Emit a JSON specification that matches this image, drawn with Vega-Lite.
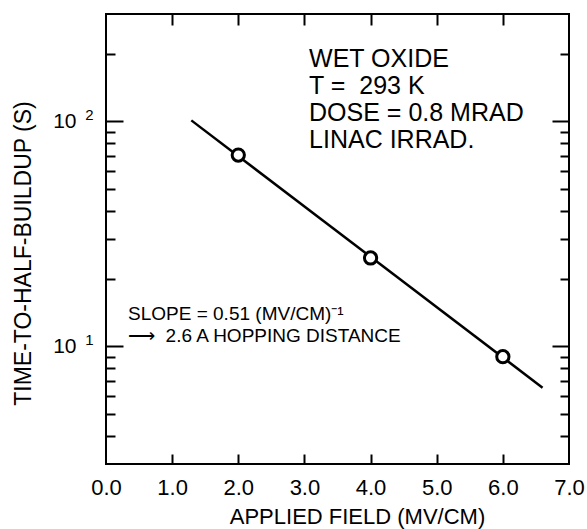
{
  "$schema": "https://vega.github.io/schema/vega-lite/v6.json",
  "width": 463,
  "height": 450,
  "autosize": {"type": "none"},
  "padding": {"left": 106, "top": 14, "right": 18, "bottom": 65},
  "background": "white",
  "config": {
    "view": {"stroke": "black", "strokeWidth": 2},
    "axis": {
      "domain": false,
      "grid": false,
      "tickColor": "black",
      "tickWidth": 2,
      "labelColor": "black",
      "labelFont": "Liberation Sans",
      "titleFont": "Liberation Sans",
      "titleColor": "black",
      "titleFontWeight": "normal",
      "labelFlush": false,
      "labelOverlap": false
    },
    "text": {"font": "Liberation Sans", "color": "black"}
  },
  "datasets": {
    "fit": [
      {"field": 1.29, "time": 101},
      {"field": 6.6, "time": 6.55}
    ],
    "measured": [
      {"field": 2, "time": 70.8},
      {"field": 4, "time": 24.7},
      {"field": 6, "time": 9.0}
    ],
    "conditions": [
      {"field": 3.07, "time": 174, "note": ["WET OXIDE", "T =\u00a0 293 K", "DOSE = 0.8 MRAD", "LINAC IRRAD."]}
    ],
    "slope": [
      {"field": 0.333, "time": 13.1, "note": ["SLOPE = 0.51 (MV/CM)\u207b\u00b9", "\u27f6\u00a0\u00a02.6 A HOPPING DISTANCE"]}
    ]
  },
  "resolve": {"axis": {"x": "independent", "y": "independent"}},
  "layer": [
    {
      "data": {"name": "fit"},
      "mark": {"type": "line", "color": "black", "strokeWidth": 2.5},
      "encoding": {
        "x": {
          "field": "field",
          "type": "quantitative",
          "scale": {"domain": [0, 7], "nice": false, "zero": false},
          "axis": {
            "orient": "bottom",
            "values": [0, 1, 2, 3, 4, 5, 6, 7],
            "ticks": false,
            "format": ".1f",
            "labelFontSize": 22,
            "labelPadding": 13,
            "title": "APPLIED FIELD (MV/CM)",
            "titleFontSize": 22,
            "titleX": 251,
            "titleY": 59,
            "titleBaseline": "alphabetic"
          }
        },
        "y": {
          "field": "time",
          "type": "quantitative",
          "scale": {"type": "log", "domain": [3, 300], "nice": false},
          "axis": {
            "orient": "left",
            "values": [10, 100],
            "ticks": false,
            "labelExpr": "'10'",
            "labelFontSize": 21,
            "labelPadding": 30,
            "title": "TIME-TO-HALF-BUILDUP (S)",
            "titleFontSize": 23,
            "titleX": -76,
            "titleY": 239,
            "titleBaseline": "alphabetic"
          }
        }
      }
    },
    {
      "data": {"name": "measured"},
      "mark": {"type": "point", "shape": "circle", "filled": true, "fill": "white", "stroke": "black", "strokeWidth": 3, "size": 150, "opacity": 1},
      "encoding": {
        "x": {
          "field": "field",
          "type": "quantitative",
          "axis": {"orient": "bottom", "values": [1, 2, 3, 4, 5, 6], "labels": false, "tickSize": -10, "title": null}
        },
        "y": {
          "field": "time",
          "type": "quantitative",
          "axis": {
            "orient": "left",
            "values": [4, 5, 6, 7, 8, 9, 10, 20, 30, 40, 50, 60, 70, 80, 90, 100, 200],
            "labels": false,
            "tickSize": {"condition": {"test": "datum.value === 10 || datum.value === 100", "value": -17}, "value": -9},
            "title": null
          }
        }
      }
    },
    {
      "data": {"name": "conditions"},
      "mark": {
        "type": "text",
        "align": "left",
        "baseline": "alphabetic",
        "fontSize": 25,
        "lineHeight": 27
      },
      "encoding": {
        "text": {"field": "note"},
        "x": {
          "field": "field",
          "type": "quantitative",
          "axis": {"orient": "top", "values": [1, 2, 3, 4, 5, 6], "labels": false, "tickSize": -11, "title": null}
        },
        "y": {
          "field": "time",
          "type": "quantitative",
          "axis": {
            "orient": "right",
            "values": [4, 5, 6, 7, 8, 9, 10, 20, 30, 40, 50, 60, 70, 80, 90, 100, 200],
            "labels": false,
            "tickSize": {"condition": {"test": "datum.value === 10 || datum.value === 100", "value": -17}, "value": -9},
            "title": null
          }
        }
      }
    },
    {
      "data": {"name": "slope"},
      "mark": {
        "type": "text",
        "align": "left",
        "baseline": "alphabetic",
        "fontSize": 19,
        "lineHeight": 22
      },
      "encoding": {
        "text": {"field": "note"},
        "x": {"field": "field", "type": "quantitative", "axis": null},
        "y": {
          "field": "time",
          "type": "quantitative",
          "axis": {
            "orient": "left",
            "values": [10, 100],
            "ticks": false,
            "labelExpr": "datum.value === 100 ? '2' : '1'",
            "labelFontSize": 15,
            "labelPadding": 13,
            "labelOffset": -7,
            "title": null
          }
        }
      }
    }
  ]
}
